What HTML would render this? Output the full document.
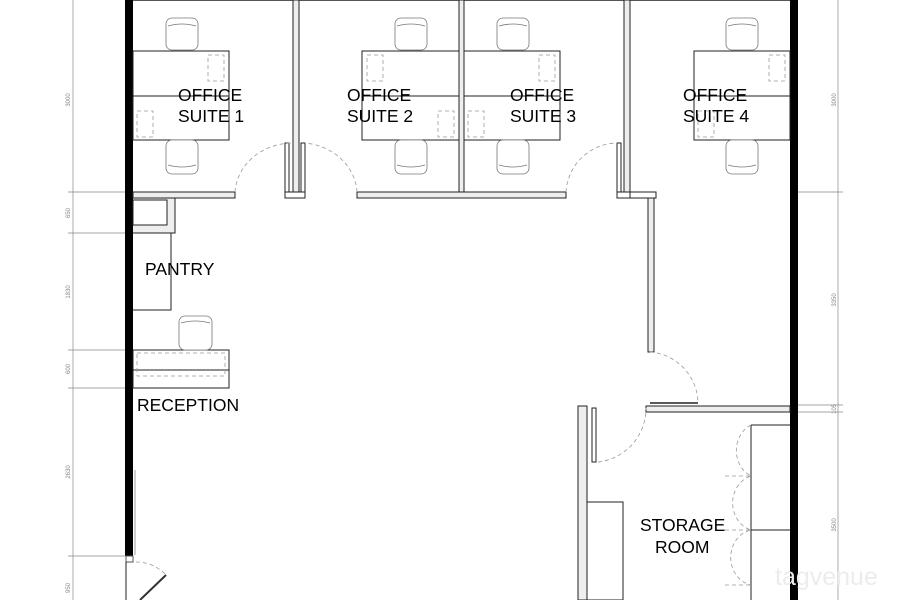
<!DOCTYPE html>
<html><head><meta charset="utf-8"><style>
html,body{margin:0;padding:0;background:#fff;width:900px;height:600px;overflow:hidden}
svg{display:block}
text{font-family:"Liberation Sans",sans-serif}
</style></head><body>
<svg width="900" height="600" viewBox="0 0 900 600" xmlns="http://www.w3.org/2000/svg">
<g fill="none" stroke="#222" stroke-width="1">
<line x1="133" y1="0.5" x2="790" y2="0.5" stroke="#555"/>
<rect x="125" y="0" width="8" height="556" fill="#000" stroke="none"/>
<rect x="790" y="0" width="8" height="600" fill="#000" stroke="none"/>
<line x1="135" y1="470" x2="135" y2="555" stroke="#999"/>
<rect x="126" y="556" width="7" height="6" stroke="#555"/>
<line x1="126" y1="562" x2="126" y2="600"/>
<rect x="293" y="0" width="6" height="192" fill="#eee"/>
<rect x="459" y="0" width="5" height="192" fill="#eee"/>
<rect x="624" y="0" width="6" height="192" fill="#eee"/>
<rect x="285" y="143" width="4" height="49"/>
<rect x="285" y="192" width="20" height="6"/>
<rect x="301" y="143" width="4" height="49"/>
<rect x="617" y="143" width="4" height="49"/>
<rect x="617" y="192" width="13" height="6"/>
<rect x="630" y="192" width="26" height="6"/>
<rect x="133" y="192" width="102" height="6" fill="#eee"/>
<rect x="357" y="192" width="209" height="6" fill="#eee"/>
<rect x="648" y="198" width="6" height="154" fill="#eee"/>
<rect x="646" y="406" width="144" height="6" fill="#eee"/>
<line x1="650" y1="403" x2="698" y2="403" stroke-width="1.5"/>
<rect x="578" y="406" width="9" height="194" fill="#eee"/>
<rect x="592" y="408" width="4" height="54"/>
<rect x="587" y="502" width="36" height="98"/>
<line x1="751" y1="425" x2="751" y2="600"/>
<line x1="751" y1="530" x2="790" y2="530"/>
<line x1="751" y1="425" x2="790" y2="425"/>
<path d="M133 198 H175 V233 H133" fill="#eee"/>
<rect x="133" y="200" width="34" height="25" fill="#fff"/>
<path d="M133 233 H171 V310 H133"/>
<rect x="133" y="350" width="96" height="38"/>
<line x1="133" y1="370" x2="229" y2="370"/>
<rect x="133" y="51" width="96" height="89"/><line x1="133" y1="96" x2="229" y2="96"/>
<rect x="362" y="51" width="97" height="89"/><line x1="362" y1="96" x2="459" y2="96"/>
<rect x="464" y="51" width="96" height="89"/><line x1="464" y1="96" x2="560" y2="96"/>
<rect x="694" y="51" width="96" height="89"/><line x1="694" y1="96" x2="790" y2="96"/>
</g>
<g fill="none" stroke="#999" stroke-width="0.8" stroke-dasharray="4,3">
<rect x="208" y="55" width="16" height="26"/><rect x="137" y="111" width="16" height="26"/>
<rect x="367" y="55" width="16" height="26"/><rect x="438" y="111" width="16" height="26"/>
<rect x="539" y="55" width="16" height="26"/><rect x="468" y="111" width="16" height="26"/>
<rect x="769" y="55" width="16" height="26"/><rect x="698" y="111" width="16" height="26"/>
<rect x="137" y="353" width="88" height="23"/>
<path d="M235 192 A58 52 0 0 1 293 143"/>
<path d="M357 192 A58 52 0 0 0 305 143"/>
<path d="M566 192 A52 52 0 0 1 617 143"/>
<path d="M650 352 A52 52 0 0 1 698 403"/>
<path d="M598 462 A54 54 0 0 0 646 408"/>
<path d="M751 425 A25 28 0 0 0 751 476 A25 28 0 0 0 751 530 A25 28 0 0 0 751 585"/>
<line x1="725" y1="476" x2="751" y2="476"/><line x1="725" y1="530" x2="751" y2="530"/><line x1="725" y1="585" x2="751" y2="585"/>
<path d="M136 562 A40 40 0 0 1 166 575"/>
</g>
<line x1="140" y1="600" x2="166" y2="575" stroke="#333" stroke-width="2"/>
<g fill="#fff" stroke="#777" stroke-width="0.8">
<g id="cu"><rect x="166" y="18" width="32" height="32" rx="6"/><path d="M168 26 Q182 22 196 26"/></g>
<use href="#cu" x="229"/><use href="#cu" x="331"/><use href="#cu" x="560"/>
<g id="cd"><rect x="166" y="140" width="32" height="34" rx="6"/><path d="M168 165 Q182 169 196 165"/></g>
<use href="#cd" x="229"/><use href="#cd" x="331"/><use href="#cd" x="560"/>
<rect x="179" y="316" width="33" height="34" rx="6"/><path d="M181 323 Q195 319 210 323"/>
</g>
<g stroke="#888" stroke-width="0.7">
<line x1="73" y1="0" x2="73" y2="600"/>
<line x1="68" y1="192" x2="125" y2="192"/><line x1="68" y1="233" x2="125" y2="233"/>
<line x1="68" y1="350" x2="125" y2="350"/><line x1="68" y1="388" x2="125" y2="388"/>
<line x1="68" y1="556" x2="125" y2="556"/>
<line x1="838" y1="0" x2="838" y2="600"/>
<line x1="798" y1="192" x2="843" y2="192"/><line x1="798" y1="405" x2="843" y2="405"/><line x1="798" y1="412" x2="843" y2="412"/>
</g>
<g fill="#888" font-size="6" text-anchor="middle">
<text transform="translate(70,100) rotate(-90)">3000</text>
<text transform="translate(70,213) rotate(-90)">650</text>
<text transform="translate(70,292) rotate(-90)">1830</text>
<text transform="translate(70,369) rotate(-90)">600</text>
<text transform="translate(70,472) rotate(-90)">2630</text>
<text transform="translate(70,588) rotate(-90)">950</text>
<text transform="translate(836,100) rotate(-90)">3000</text>
<text transform="translate(836,300) rotate(-90)">3350</text>
<text transform="translate(836,409) rotate(-90)">105</text>
<text transform="translate(836,525) rotate(-90)">3500</text>
</g>
<g fill="#000" font-size="17.5">
<text x="178" y="101">OFFICE</text><text x="178" y="122">SUITE 1</text>
<text x="347" y="101">OFFICE</text><text x="347" y="122">SUITE 2</text>
<text x="510" y="101">OFFICE</text><text x="510" y="122">SUITE 3</text>
<text x="683" y="101">OFFICE</text><text x="683" y="122">SUITE 4</text>
<text x="145" y="275">PANTRY</text>
<text x="137" y="411">RECEPTION</text>
<text x="640" y="531">STORAGE</text><text x="655" y="553">ROOM</text>
</g>
<text x="775" y="585" font-size="25" fill="#ececec">tagvenue</text>
</svg>
</body></html>
